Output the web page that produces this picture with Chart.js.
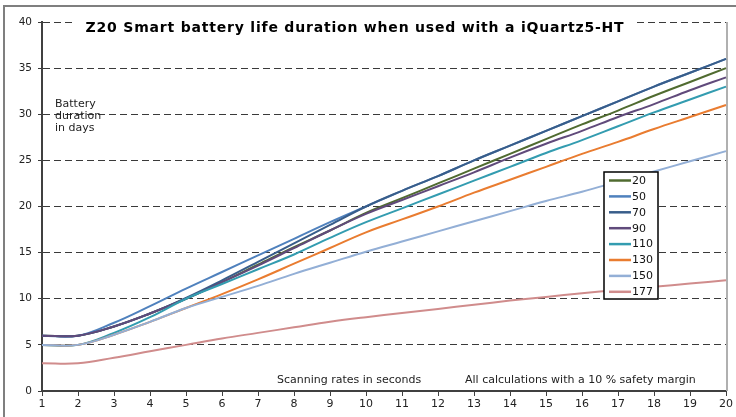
<!DOCTYPE html>
<html lang="en">
<head>
  <meta charset="UTF-8">
  <title>Z20 Smart battery life duration</title>
  <script src="https://cdn.jsdelivr.net/npm/chart.js"></script>
  <style>
    html, body { margin: 0; padding: 0; background: #fff; }
    #wrap { width: 736px; height: 417px; }
  </style>
</head>
<body>
<div id="wrap"><canvas id="batteryChart" width="736" height="417"></canvas></div>

<script>
  // scanning rate in seconds (x axis)
  const scanRates = ['1','2','3','4','5','6','7','8','9','10','11','12','13','14','15','16','17','18','19','20'];

  // battery duration in days, one array per series
  const days20  = [6, 6, 7.0, 8.4, 10.0, 11.8, 13.7, 15.6, 17.4, 19.3, 20.9, 22.5, 24.1, 25.7, 27.3, 28.9, 30.4, 32.0, 33.5, 35];
  const days50  = [6, 6, 7.4, 9.2, 11.1, 12.9, 14.7, 16.5, 18.3, 20.0, 21.7, 23.3, 25.0, 26.6, 28.2, 29.8, 31.4, 33.0, 34.5, 36];
  const days70  = [6, 6, 7.0, 8.4, 10.1, 12.0, 14.0, 16.0, 18.0, 20.0, 21.7, 23.3, 25.0, 26.6, 28.2, 29.8, 31.4, 33.0, 34.5, 36];
  const days90  = [6, 6, 7.0, 8.4, 10.0, 11.8, 13.6, 15.5, 17.4, 19.2, 20.7, 22.2, 23.7, 25.3, 26.8, 28.2, 29.7, 31.1, 32.6, 34];
  const days110 = [5, 5, 6.3, 8.0, 10.0, 11.6, 13.2, 14.8, 16.6, 18.3, 19.8, 21.3, 22.8, 24.3, 25.8, 27.2, 28.7, 30.2, 31.6, 33];
  const days130 = [5, 5, 6.1, 7.5, 9.0, 10.5, 12.1, 13.8, 15.5, 17.2, 18.6, 20.0, 21.5, 22.9, 24.3, 25.7, 27.0, 28.4, 29.7, 31];
  const days150 = [5, 5, 6.1, 7.5, 9.0, 10.2, 11.4, 12.7, 13.9, 15.1, 16.2, 17.3, 18.4, 19.5, 20.6, 21.6, 22.7, 23.8, 24.9, 26];
  const days177 = [3, 3, 3.6, 4.3, 5.0, 5.7, 6.3, 6.9, 7.5, 8.0, 8.45, 8.9, 9.35, 9.8, 10.2, 10.6, 10.95, 11.3, 11.65, 12];

  const seriesNames = ['20', '50', '70', '90', '110', '130', '150', '177'];
  const seriesData = [days20, days50, days70, days90, days110, days130, days150, days177];
  const seriesColors = ['#506b30', '#4f81bd', '#385d8a', '#604a7b', '#339cb0', '#e97c30', '#93afd6', '#d08c8c'];

  const yTicks = [0, 5, 10, 15, 20, 25, 30, 35, 40];

  const FONT = '"DejaVu Sans", Verdana, sans-serif';

  // white background, outer frame and right edge of plot area
  const framePlugin = {
    id: 'frame',
    beforeDraw(chart) {
      const ctx = chart.ctx;
      ctx.save();
      ctx.fillStyle = '#fff';
      ctx.fillRect(0, 0, chart.width, chart.height);
      ctx.strokeStyle = '#7f7f7f';
      ctx.lineWidth = 2;
      ctx.strokeRect(4, 6, chart.width + 20, chart.height + 20);
      ctx.restore();
    },
    beforeDatasetsDraw(chart) {
      const { ctx, chartArea } = chart;
      ctx.save();
      ctx.strokeStyle = '#b0b0b0';
      ctx.lineWidth = 2;
      ctx.beginPath();
      ctx.moveTo(chartArea.right + 1, chartArea.top);
      ctx.lineTo(chartArea.right + 1, chartArea.bottom);
      ctx.stroke();
      ctx.restore();
    }
  };

  // title, side notes and the boxed legend
  const notesPlugin = {
    id: 'notes',
    afterDraw(chart) {
      const ctx = chart.ctx;
      ctx.save();

      const title = 'Z20 Smart battery life duration when used with a iQuartz5-HT';
      ctx.font = 'bold 14px ' + FONT;
      ctx.letterSpacing = '0.8px';
      const tw = ctx.measureText(title).width;
      const cx = 355;
      ctx.fillStyle = '#fff';
      ctx.fillRect(cx - tw / 2 - 12, 15, tw + 24, 16);
      ctx.fillStyle = '#000';
      ctx.textAlign = 'center';
      ctx.textBaseline = 'middle';
      ctx.fillText(title, cx, 28);
      ctx.letterSpacing = '0px';

      ctx.font = '11px ' + FONT;
      ctx.fillStyle = '#222';
      ctx.textAlign = 'left';
      ctx.fillText('Battery', 55, 104);
      ctx.fillText('duration', 55, 116);
      ctx.fillText('in days', 55, 128);

      ctx.fillText('Scanning rates in seconds', 277, 380);
      ctx.fillText('All calculations with a 10 % safety margin', 465, 380);

      // legend box
      const lx = 604, ly = 172, lw = 54, lh = 127;
      ctx.fillStyle = '#fff';
      ctx.fillRect(lx, ly, lw, lh);
      ctx.strokeStyle = '#000';
      ctx.lineWidth = 1.5;
      ctx.strokeRect(lx, ly, lw, lh);
      ctx.font = '11px ' + FONT;
      chart.data.datasets.forEach((ds, i) => {
        const y = 180.5 + i * 15.9;
        ctx.strokeStyle = ds.borderColor;
        ctx.lineWidth = 2.5;
        ctx.beginPath();
        ctx.moveTo(609, y);
        ctx.lineTo(631, y);
        ctx.stroke();
        ctx.fillStyle = '#111';
        ctx.fillText(ds.label, 632, y + 0.5);
      });

      ctx.restore();
    }
  };

  const datasets = seriesNames.map((name, i) => ({
    label: name,
    data: seriesData[i],
    borderColor: seriesColors[i],
    backgroundColor: seriesColors[i],
    borderWidth: 2,
    pointRadius: 0,
    tension: 0.4,
    fill: false,
    order: seriesNames.length - i
  }));

  new Chart(document.getElementById('batteryChart'), {
    type: 'line',
    data: { labels: scanRates, datasets },
    options: {
      responsive: false,
      animation: false,
      events: [],
      layout: { padding: { left: 0, top: 22, right: 10, bottom: 0 } },
      plugins: { legend: { display: false }, title: { display: false }, tooltip: { enabled: false } },
      scales: {
        x: {
          offset: false,
          grid: { display: true, drawOnChartArea: false, drawTicks: true, tickLength: 5, color: '#404040' },
          border: { display: true, color: '#404040', width: 2 },
          ticks: { font: { family: FONT, size: 11 }, color: '#222', padding: 2, maxRotation: 0, autoSkip: false },
          afterFit(scale) { scale.height = 26; }
        },
        y: {
          min: 0,
          max: 40,
          afterBuildTicks(scale) { scale.ticks = yTicks.map(v => ({ value: v })); },
          grid: { color: '#3a3a3a', lineWidth: 1, tickLength: 4 },
          border: { display: true, color: '#404040', width: 2, dash: [7, 4] },
          ticks: { font: { family: FONT, size: 10.5 }, color: '#222', padding: 6 },
          afterFit(scale) { scale.width = 42; }
        }
      }
    },
    plugins: [framePlugin, notesPlugin]
  });
</script>
</body>
</html>
